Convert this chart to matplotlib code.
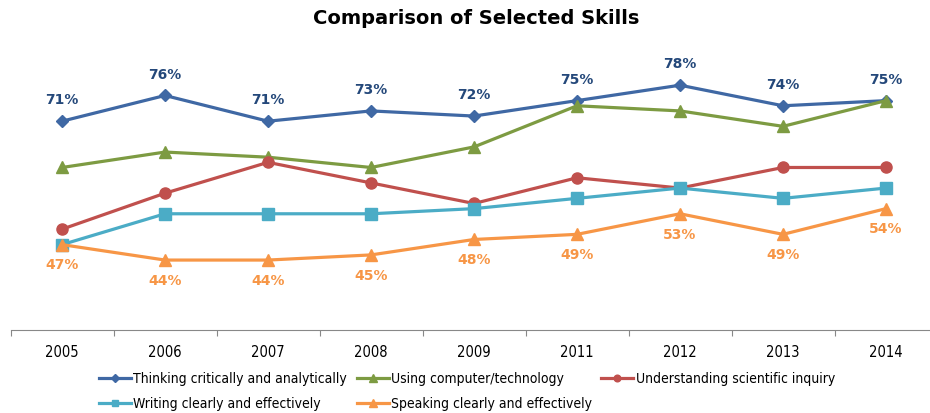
import matplotlib
matplotlib.use("Agg")
import matplotlib.pyplot as plt
from matplotlib import font_manager
from matplotlib.ticker import FixedLocator, NullFormatter

YEARS = ["2005", "2006", "2007", "2008", "2009", "2011", "2012", "2013", "2014"]

thinking = [71, 76, 71, 73, 72, 75, 78, 74, 75]
computer = [62, 65, 64, 62, 66, 74, 73, 70, 75]
science = [50, 57, 63, 59, 55, 60, 58, 62, 62]
writing = [47, 53, 53, 53, 54, 56, 58, 56, 58]
speaking = [47, 44, 44, 45, 48, 49, 53, 49, 54]

# condensed face stands in for the narrow font of the original
TICKFONT = font_manager.FontProperties(family="DejaVu Sans", stretch="condensed", size=10.5)
LEGFONT = font_manager.FontProperties(family="DejaVu Sans", stretch="condensed", size=10)

fig = plt.figure(figsize=(9.3, 4.13), dpi=100)
ax = fig.add_axes([10.5 / 930, 1 - 330 / 413, (930 - 10.5) / 930, 270 / 413])

x = list(range(len(YEARS)))
lw = 2.3
h_think, = ax.plot(x, thinking, color="#3F68A4", lw=lw, marker="D", ms=6.5,
                   label="Thinking critically and analytically")
h_comp, = ax.plot(x, computer, color="#7D9B42", lw=lw, marker="^", ms=8.5,
                  label="Using computer/technology")
h_sci, = ax.plot(x, science, color="#C0504D", lw=lw, marker="o", ms=8,
                 label="Understanding scientific inquiry")
h_wri, = ax.plot(x, writing, color="#4BACC6", lw=lw, marker="s", ms=8,
                 label="Writing clearly and effectively")
h_spk, = ax.plot(x, speaking, color="#F79646", lw=lw, marker="^", ms=8.5,
                 label="Speaking clearly and effectively")

for xi, v in zip(x, thinking):
    ax.annotate(f"{v}%", (xi, v), xytext=(0, 15), textcoords="offset points",
                ha="center", va="center", fontsize=10, fontweight="bold",
                color="#24487A")
for xi, v in zip(x, speaking):
    ax.annotate(f"{v}%", (xi, v), xytext=(0, -15), textcoords="offset points",
                ha="center", va="center", fontsize=10, fontweight="bold",
                color="#F79646")

ax.set_xlim(-0.5, -0.5 + (930 - 10.5) / 103)
ax.set_ylim(30.4, 82.9)

ax.xaxis.set_major_locator(FixedLocator([i - 0.5 for i in range(len(YEARS) + 1)]))
ax.xaxis.set_major_formatter(NullFormatter())
ax.xaxis.set_minor_locator(FixedLocator(x))
ax.set_xticklabels(YEARS, minor=True, fontproperties=TICKFONT)
ax.tick_params(axis="x", which="major", length=4, color="#888888", direction="out")
ax.tick_params(axis="x", which="minor", length=0, pad=11)
ax.set_yticks([])
for s in ["top", "right", "left"]:
    ax.spines[s].set_visible(False)
ax.spines["bottom"].set_color("#888888")

fig.text(476 / 930, 1 - 19 / 413, "Comparison of Selected Skills", ha="center", va="center",
         fontsize=14, fontweight="bold", color="black")

handles = [h_think, h_wri, h_comp, h_spk, h_sci]
fig.legend(handles=handles, labels=[h.get_label() for h in handles], ncol=3,
           loc="upper center", bbox_to_anchor=(467 / 930, 1 - 372 / 413), frameon=False,
           prop=LEGFONT, handlelength=2.3, handletextpad=0.15,
           columnspacing=0.7, labelspacing=0.8, borderpad=0, borderaxespad=0,
           markerscale=0.6)

fig.savefig("out.png", dpi=100)
